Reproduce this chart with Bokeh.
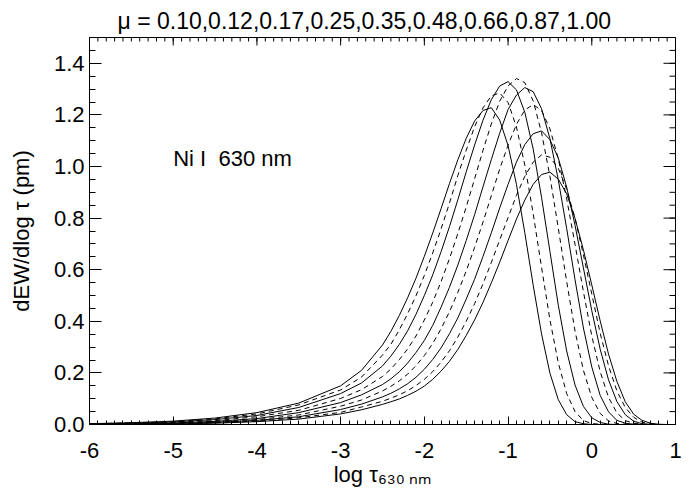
import math
from bokeh.plotting import figure
from bokeh.models import Range1d, FixedTicker, PrintfTickFormatter, Label, ColumnDataSource
from bokeh.embed import file_html
from bokeh.resources import INLINE

# ---------------- data ----------------
mu_values = ["0.10", "0.12", "0.17", "0.25", "0.35", "0.48", "0.66", "0.87", "1.00"]

log_tau = [-6.0, -5.5, -5.0, -4.5, -4.0, -3.5, -3.0, -2.75, -2.5,
           -2.4, -2.3, -2.2, -2.1, -2.0, -1.9, -1.8, -1.7, -1.6, -1.5,
           -1.4, -1.3, -1.2, -1.1, -1.0, -0.9, -0.8, -0.7, -0.6, -0.5,
           -0.4, -0.3, -0.2, -0.1, 0.0, 0.1, 0.2, 0.3, 0.4, 0.5,
           0.6, 0.7, 0.8, 0.9, 1.0]

mu_010 = [0.003, 0.007, 0.013, 0.025, 0.046, 0.083, 0.150, 0.210, 0.308,
          0.361, 0.422, 0.491, 0.567, 0.652, 0.742, 0.837, 0.934, 1.026, 1.109,
          1.176, 1.217, 1.228, 1.180, 1.081, 0.931, 0.743, 0.540, 0.351, 0.199,
          0.096, 0.038, 0.011, 0.003, 0.0, 0.0, 0.0, 0.0, 0.0, 0.0,
          0.0, 0.0, 0.0, 0.0, 0.0]
mu_012 = [0.003, 0.006, 0.011, 0.022, 0.041, 0.076, 0.134, 0.184, 0.269,
          0.311, 0.366, 0.429, 0.499, 0.578, 0.665, 0.758, 0.858, 0.965, 1.063,
          1.154, 1.227, 1.274, 1.285, 1.248, 1.153, 1.006, 0.817, 0.609, 0.406,
          0.239, 0.120, 0.050, 0.015, 0.004, 0.001, 0.0, 0.0, 0.0, 0.0,
          0.0, 0.0, 0.0, 0.0, 0.0]
mu_017 = [0.002, 0.005, 0.010, 0.019, 0.035, 0.066, 0.120, 0.161, 0.227,
          0.265, 0.310, 0.363, 0.427, 0.500, 0.580, 0.670, 0.767, 0.871, 0.979,
          1.083, 1.179, 1.259, 1.312, 1.329, 1.297, 1.210, 1.068, 0.880, 0.671,
          0.462, 0.285, 0.153, 0.070, 0.026, 0.008, 0.001, 0.0, 0.0, 0.0,
          0.0, 0.0, 0.0, 0.0, 0.0]
mu_025 = [0.002, 0.004, 0.008, 0.015, 0.030, 0.055, 0.101, 0.135, 0.186,
          0.215, 0.251, 0.293, 0.343, 0.405, 0.474, 0.554, 0.643, 0.740, 0.843,
          0.952, 1.062, 1.165, 1.253, 1.312, 1.341, 1.325, 1.254, 1.131, 0.962,
          0.761, 0.554, 0.362, 0.210, 0.105, 0.043, 0.014, 0.004, 0.001, 0.0,
          0.0, 0.0, 0.0, 0.0, 0.0]
mu_035 = [0.001, 0.003, 0.006, 0.012, 0.023, 0.046, 0.085, 0.115, 0.155,
          0.177, 0.204, 0.238, 0.279, 0.326, 0.384, 0.455, 0.532, 0.618, 0.713,
          0.813, 0.921, 1.027, 1.129, 1.221, 1.277, 1.306, 1.290, 1.224, 1.108,
          0.948, 0.760, 0.561, 0.374, 0.223, 0.113, 0.049, 0.016, 0.005, 0.001,
          0.0, 0.0, 0.0, 0.0, 0.0]
mu_048 = [0.001, 0.002, 0.005, 0.010, 0.019, 0.037, 0.071, 0.095, 0.130,
          0.148, 0.169, 0.195, 0.228, 0.267, 0.314, 0.371, 0.437, 0.512, 0.595,
          0.686, 0.784, 0.887, 0.990, 1.083, 1.163, 1.219, 1.240, 1.217, 1.146,
          1.030, 0.875, 0.698, 0.515, 0.343, 0.205, 0.105, 0.045, 0.015, 0.005,
          0.001, 0.0, 0.0, 0.0, 0.0]
mu_066 = [0.001, 0.002, 0.004, 0.008, 0.016, 0.030, 0.058, 0.079, 0.107,
          0.121, 0.138, 0.158, 0.183, 0.214, 0.252, 0.297, 0.352, 0.413, 0.486,
          0.563, 0.651, 0.743, 0.839, 0.931, 1.017, 1.085, 1.127, 1.138, 1.104,
          1.033, 0.920, 0.772, 0.607, 0.441, 0.292, 0.173, 0.089, 0.038, 0.013,
          0.003, 0.001, 0.0, 0.0, 0.0]
mu_087 = [0.001, 0.001, 0.003, 0.007, 0.013, 0.026, 0.047, 0.068, 0.090,
          0.102, 0.115, 0.131, 0.151, 0.175, 0.205, 0.242, 0.286, 0.339, 0.400,
          0.468, 0.545, 0.628, 0.715, 0.802, 0.888, 0.962, 1.017, 1.045, 1.036,
          0.993, 0.912, 0.799, 0.658, 0.506, 0.354, 0.228, 0.130, 0.066, 0.028,
          0.009, 0.002, 0.0, 0.0, 0.0]
mu_100 = [0.001, 0.001, 0.002, 0.005, 0.011, 0.021, 0.041, 0.057, 0.078,
          0.088, 0.099, 0.113, 0.129, 0.149, 0.175, 0.207, 0.245, 0.291, 0.345,
          0.405, 0.473, 0.549, 0.629, 0.713, 0.796, 0.870, 0.931, 0.969, 0.978,
          0.951, 0.894, 0.799, 0.677, 0.541, 0.402, 0.273, 0.167, 0.088, 0.040,
          0.016, 0.005, 0.001, 0.0, 0.0]

series = [mu_010, mu_012, mu_017, mu_025, mu_035, mu_048, mu_066, mu_087, mu_100]

x_ticks = [-6, -5, -4, -3, -2, -1, 0, 1]
y_ticks = [0.0, 0.2, 0.4, 0.6, 0.8, 1.0, 1.2, 1.4]

title_text = "\u03bc = " + ",".join(mu_values)
y_label = "dEW/dlog \u03c4 (pm)"
x_label = "log \u03c4\u2086\u2083\u2080\u2009\u2099\u2098"
line_label = "Ni I\u00a0\u00a0630 nm"

FONT = "Liberation Sans"
X0, X1, Y0, Y1 = -6, 1, 0, 1.5

# ---------------- figure ----------------
p = figure(width=688, height=491,
           x_range=Range1d(X0, X1), y_range=Range1d(Y0, Y1),
           output_backend="svg", toolbar_location=None,
           min_border_left=89, min_border_right=13,
           min_border_top=37, min_border_bottom=67)
p.xgrid.visible = False
p.ygrid.visible = False
p.outline_line_color = "black"
p.background_fill_color = "white"
p.border_fill_color = "white"

p.title.text = title_text
p.title.align = "left"
p.title.offset = 28
p.title.text_font = FONT
p.title.text_font_size = "23px"
p.title.text_font_style = "normal"
p.title.text_color = "black"
p.title.standoff = 8

x_minor = [X0 + 0.1 * i for i in range(0, 71)]
y_minor = [0.05 * i for i in range(0, 31)]


def style(ax, tin, mtin):
    ax.major_tick_in = tin
    ax.major_tick_out = 0
    ax.minor_tick_in = mtin
    ax.minor_tick_out = 0
    ax.axis_line_color = "black"
    ax.major_tick_line_color = "black"
    ax.minor_tick_line_color = "black"
    ax.axis_line_width = 1
    ax.major_label_text_font = FONT
    ax.major_label_text_font_size = "22px"
    ax.major_label_text_color = "black"
    ax.axis_label_text_font = FONT
    ax.axis_label_text_font_size = "22px"
    ax.axis_label_text_font_style = "normal"
    ax.axis_label_text_color = "black"


xax = p.xaxis[0]
xax.ticker = FixedTicker(ticks=x_ticks, minor_ticks=x_minor)
xax.formatter = PrintfTickFormatter(format="%d")
style(xax, 8, 4)
xax.major_label_standoff = 18
xax.axis_label = x_label
xax.axis_label_standoff = 1

yax = p.yaxis[0]
yax.ticker = FixedTicker(ticks=y_ticks, minor_ticks=y_minor)
yax.formatter = PrintfTickFormatter(format="%.1f")
style(yax, 12, 6)
yax.major_label_standoff = 5
yax.axis_label = y_label
yax.axis_label_standoff = 17

# mirrored tick marks on the top and right edges (no labels)
p.ray(x=x_ticks, y=[Y1] * len(x_ticks), length=8, length_units="screen",
      angle=-math.pi / 2, line_color="black", line_width=1)
p.ray(x=x_minor, y=[Y1] * len(x_minor), length=4, length_units="screen",
      angle=-math.pi / 2, line_color="black", line_width=1)
p.ray(x=[X1] * len(y_ticks), y=y_ticks, length=12, length_units="screen",
      angle=math.pi, line_color="black", line_width=1)
p.ray(x=[X1] * len(y_minor), y=y_minor, length=6, length_units="screen",
      angle=math.pi, line_color="black", line_width=1)

for i, ys in enumerate(series):
    src = ColumnDataSource(data=dict(x=log_tau, y=ys))
    dash = "solid" if i % 2 == 0 else "5 4"
    p.line("x", "y", source=src, line_color="black", line_width=1, line_dash=dash)

p.add_layout(Label(x=-5.0, y=1.03, text=line_label, text_align="left",
                   text_baseline="middle", text_font=FONT, text_font_size="22px",
                   text_color="black"))

open("out.html", "w").write(file_html(p, INLINE))
